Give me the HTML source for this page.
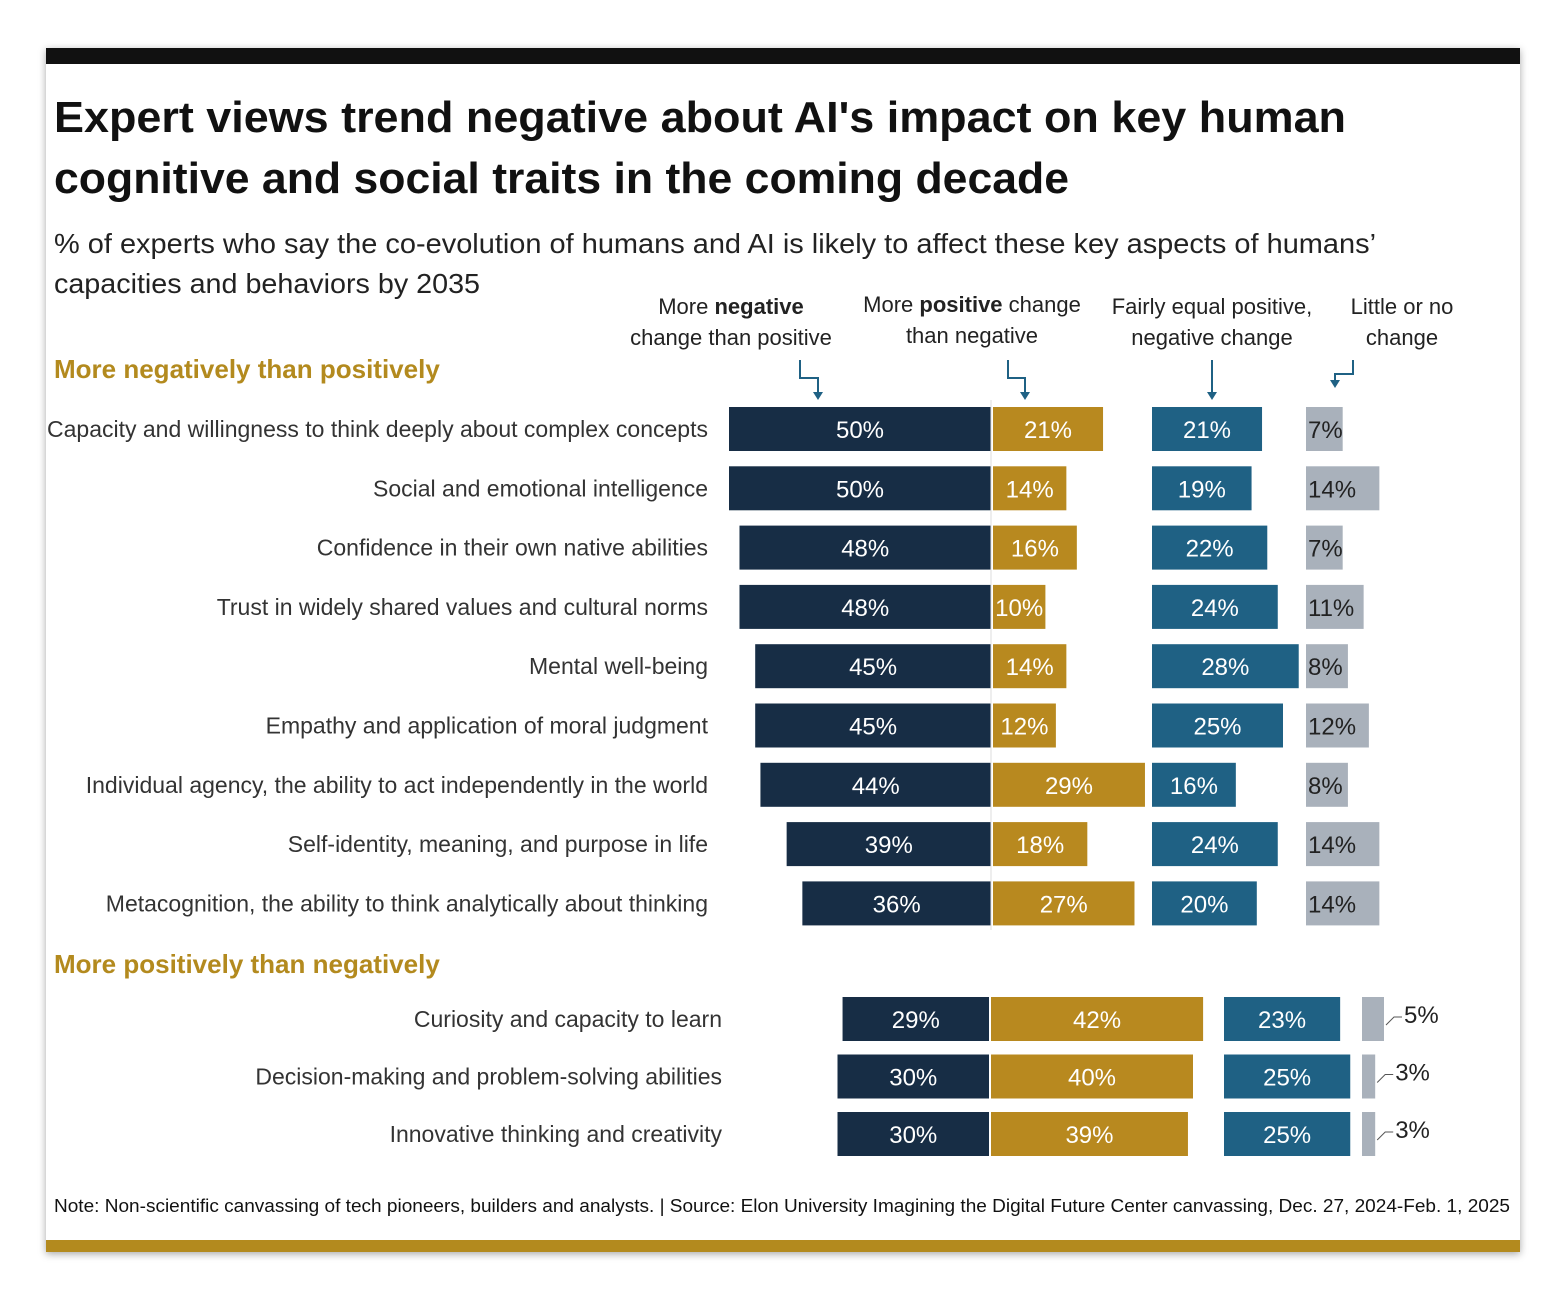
<!DOCTYPE html>
<html><head><meta charset="utf-8"><style>
body{margin:0;background:#fff;}
svg{display:block;font-family:"Liberation Sans",sans-serif;}
</style></head><body>
<svg id="c" width="1566" height="1302" viewBox="0 0 1566 1302">
<defs><filter id="sh" x="-5%" y="-5%" width="110%" height="110%"><feDropShadow dx="0" dy="2" stdDeviation="4" flood-color="#000" flood-opacity="0.35"/></filter></defs>
<rect x="46" y="48" width="1474" height="1204" fill="#fff" filter="url(#sh)"/>
<rect x="46" y="48" width="1474" height="16" fill="#111"/>
<rect x="46" y="1240" width="1474" height="12" fill="#b38a1e"/>
<text x="54" y="132" font-size="44" font-weight="bold" fill="#111" textLength="1292" lengthAdjust="spacingAndGlyphs">Expert views trend negative about AI's impact on key human</text>
<text x="54" y="193" font-size="44" font-weight="bold" fill="#111" textLength="1015" lengthAdjust="spacingAndGlyphs">cognitive and social traits in the coming decade</text>
<text x="54" y="253" font-size="28" fill="#222" textLength="1322" lengthAdjust="spacingAndGlyphs">% of experts who say the co-evolution of humans and AI is likely to affect these key aspects of humans’</text>
<text x="54" y="293" font-size="28" fill="#222" textLength="426" lengthAdjust="spacingAndGlyphs">capacities and behaviors by 2035</text>
<g font-size="22" fill="#222" text-anchor="middle">
<text x="731" y="314">More <tspan font-weight="bold">negative</tspan></text>
<text x="731" y="345">change than positive</text>
<text x="972" y="312">More <tspan font-weight="bold">positive</tspan> change</text>
<text x="972" y="343">than negative</text>
<text x="1212" y="314">Fairly equal positive,</text>
<text x="1212" y="345">negative change</text>
<text x="1402" y="314">Little or no</text>
<text x="1402" y="345">change</text>
</g>
<g stroke="#1f6184" stroke-width="2" fill="none">
<path d="M800 360 V378 H818 V394"/><path d="M1008 360 V378 H1025 V394"/><path d="M1212 360 V394"/><path d="M1353 360 V374 H1335 V384"/>
</g>
<g fill="#1f6184"><path d="M813 392 h10 l-5 8z"/><path d="M1020 392 h10 l-5 8z"/><path d="M1207 392 h10 l-5 8z"/><path d="M1330 380 h10 l-5 8z"/></g>
<text x="54" y="378" font-size="26" font-weight="bold" fill="#b38a1e">More negatively than positively</text>
<text x="54" y="973" font-size="26" font-weight="bold" fill="#b38a1e">More positively than negatively</text>
<g id="bars"></g>
<text x="54" y="1212" font-size="18" fill="#111" textLength="1456" lengthAdjust="spacingAndGlyphs">Note: Non-scientific canvassing of tech pioneers, builders and analysts. | Source: Elon University Imagining the Digital Future Center canvassing,  Dec. 27, 2024-Feb. 1, 2025</text>
</svg>
<script>
const categories1=["Capacity and willingness to think deeply about complex concepts","Social and emotional intelligence","Confidence in their own native abilities","Trust in widely shared values and cultural norms","Mental well-being","Empathy and application of moral judgment","Individual agency, the ability to act independently in the world","Self-identity, meaning, and purpose in life","Metacognition, the ability to think analytically about thinking"];
const negative1=[50,50,48,48,45,45,44,39,36];
const positive1=[21,14,16,10,14,12,29,18,27];
const equal1=[21,19,22,24,28,25,16,24,20];
const little1=[7,14,7,11,8,12,8,14,14];
const categories2=["Curiosity and capacity to learn","Decision-making and problem-solving abilities","Innovative thinking and creativity"];
const negative2=[29,30,30];
const positive2=[42,40,39];
const equal2=[23,25,25];
const little2=[5,3,3];
const NS="http://www.w3.org/2000/svg";
const g=document.getElementById('bars');
function el(t,a,txt){const e=document.createElementNS(NS,t);for(const k in a)e.setAttribute(k,a[k]);if(txt!==undefined)e.textContent=txt;g.appendChild(e);return e;}
function section(cats,neg,pos,eq,lit,o){
 const sx=v=>v*o.k;
 const sl=v=>v*o.kl;
 cats.forEach((c,i)=>{
  const cy=o.y0+i*o.step, y=cy-22, h=44;
  let t=el('text',{x:o.labelX,y:cy+8,'font-size':23,fill:'#333','text-anchor':'end'},c);
  
  
  let r=el('rect',{x:o.cx-sx(neg[i]),y:y,width:sx(neg[i]),height:h,fill:'#172d45'});
  
  
  t=el('text',{x:o.cx-sx(neg[i])/2,y:cy+9,'font-size':24,fill:'#fff','text-anchor':'middle'},neg[i]+'%');
  
  
  r=el('rect',{x:o.cx+2,y:y,width:sx(pos[i]),height:h,fill:'#b8891f'});
  
  
  t=el('text',{x:o.cx+2+sx(pos[i])/2,y:cy+9,'font-size':24,fill:'#fff','text-anchor':'middle'},pos[i]+'%');
  
  
  r=el('rect',{x:o.eqX,y:y,width:sx(eq[i]),height:h,fill:'#1f6184'});
  
  
  t=el('text',{x:o.eqX+sx(eq[i])/2,y:cy+9,'font-size':24,fill:'#fff','text-anchor':'middle'},eq[i]+'%');
  
  
  r=el('rect',{x:o.litX,y:y,width:sl(lit[i]),height:h,fill:'#a9b1bb'});
  
  
  if(o.outside){
   const p=el('path',{d:`M${o.litX+sl(lit[i])+2} ${cy+6} L${o.litX+sl(lit[i])+10} ${cy-2} H${o.litX+sl(lit[i])+18}`,stroke:'#555',fill:'none','stroke-width':1});
   
   
   t=el('text',{x:o.litX+sl(lit[i])+20,y:cy+4,'font-size':24,fill:'#222'},lit[i]+'%');
  } else {
   t=el('text',{x:o.litX+2,y:cy+9,'font-size':24,fill:'#222'},lit[i]+'%');
  }
  
  
 });
}
section(categories1,negative1,positive1,equal1,little1,{cx:991,k:5.24,kl:5.24,eqX:1152,litX:1306,y0:429,step:59.3,labelX:708,outside:false});
section(categories2,negative2,positive2,equal2,little2,{cx:989,k:5.05,kl:4.4,eqX:1224,litX:1362,y0:1019,step:57.5,labelX:722,outside:true});
const ln=document.createElementNS(NS,'line');
ln.setAttribute('x1',991);ln.setAttribute('x2',991);ln.setAttribute('y1',400);ln.setAttribute('y2',930);ln.setAttribute('stroke','#ddd');


g.appendChild(ln);
</script>
</body></html>
